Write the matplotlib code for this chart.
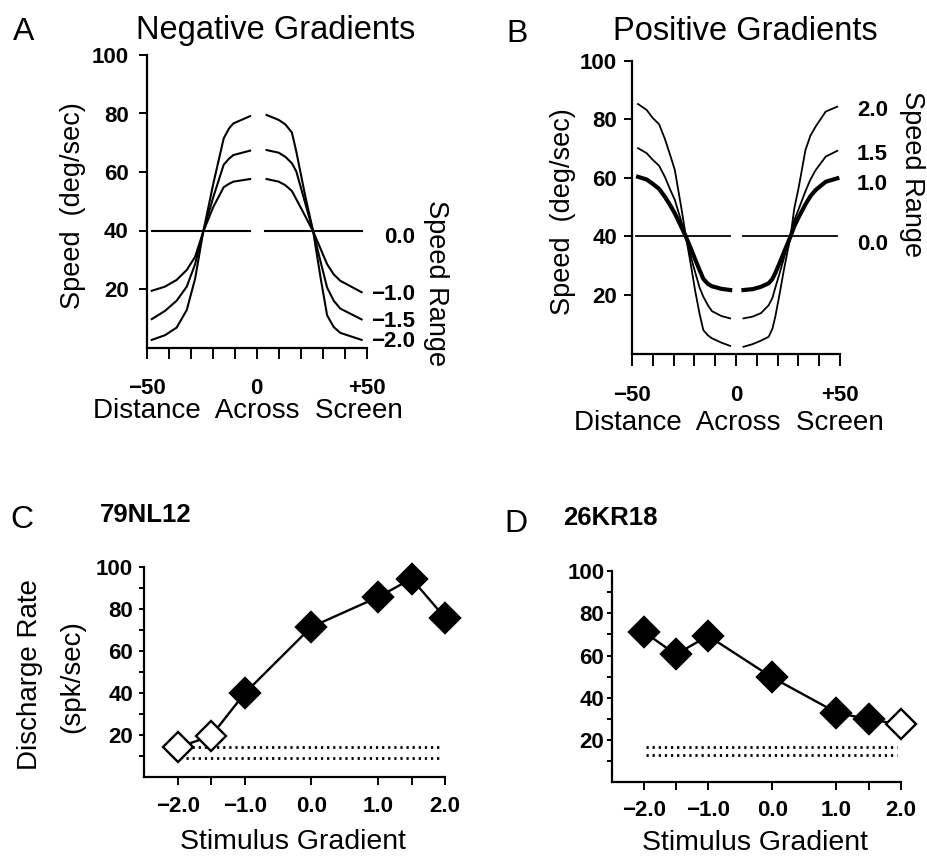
import matplotlib
matplotlib.use('Agg')
import matplotlib.pyplot as plt

plt.rcParams['font.family'] = ['Liberation Sans', 'DejaVu Sans']

W, H = 927, 856

# --- A: negative gradients (speed profile across the screen, gap at centre)
a_x_left = [-47.7, -41.7, -36.4, -31.8, -28, -24.3, -19.7, -15, -12.5, -10.6, -3]
a_x_right = [4.5, 10, 13, 16, 18, 22, 25.7, 29, 32, 35, 38, 47.7]
a_m10_left = [19.4, 20.8, 23.1, 26.5, 31, 39.6, 48.1, 54.8, 56.0, 56.7, 57.6]
a_m10_right = [57.6, 56.7, 55.5, 53.5, 50.7, 45, 39.6, 33.8, 28.5, 25, 22.8, 18.9]
a_m15_left = [9.7, 12.5, 16, 20.8, 28.5, 39.6, 51.5, 62.5, 64.6, 65.8, 67.3]
a_m15_right = [67.5, 66.6, 65.2, 63, 60.2, 49.5, 39.6, 29.4, 20.5, 16, 13.3, 9.6]
a_m20_left = [2.6, 4.2, 6.8, 12.8, 23.5, 39.6, 56.1, 71.5, 75.0, 76.6, 79.1]
a_m20_right = [79.5, 77.8, 76.3, 73.5, 67, 52, 39.6, 24, 11, 7, 5, 2.6]
a_zero_x_left = [-47.7, -3]
a_zero_x_right = [3.8, 48]
a_range_labels = ['0.0', '\u22121.0', '\u22121.5', '\u22122.0']

# --- B: positive gradients
b_x_left = [-47.1, -43, -40, -37, -34.2, -31.5, -29.4, -26.1, -24.1, -21.5, -19.7,
            -17.5, -15.7, -13.5, -11.6, -7, -2.8]
b_x_right = [3.6, 8, 12, 15.7, 17.5, 18.9, 21, 23, 26.2, 28, 30.2, 33.4, 35.8,
             38.3, 43.1, 48.7]
b_p20_left = [85.3, 83.3, 80.5, 78.4, 73.4, 67.5, 62.7, 49, 40, 29.5, 21.7,
              13.5, 8.0, 6.2, 5.2, 3.7, 2.6]
b_p20_right = [2.3, 3.2, 4.4, 5.7, 8.5, 12.6, 20.5, 28.5, 40, 49.5, 57, 69.6, 74.5,
               77.6, 82.7, 84.4]
b_p15_left = [70.2, 68.5, 66.2, 64.2, 60.4, 55.8, 52.5, 44.7, 40, 32.5, 28,
              22.5, 19.4, 16.5, 14.5, 12.8, 12.0]
b_p15_right = [12.0, 12.6, 13.8, 16.5, 19, 22.5, 27.5, 32.5, 40, 45.5, 49.5, 55.5,
               59.5, 62.7, 67.3, 69.3]
b_p10_left = [60.4, 59.5, 58, 56.3, 53.6, 50.5, 47.9, 43, 40, 35.5, 32.3,
              28.5, 25.5, 23.8, 23, 22.1, 21.7]
b_p10_right = [21.7, 22.0, 22.8, 24, 25.5, 27.5, 31, 34.5, 40, 43.5, 46.7, 51,
               53.8, 55.9, 58.7, 59.9]
b_zero_x_left = [-48.3, -2.8]
b_zero_x_right = [3.6, 48.7]
b_range_labels = ['2.0', '1.5', '1.0', '0.0']

zero_speed = 40

# --- C / D: discharge rate vs stimulus gradient
gradients = [-2.0, -1.5, -1.0, 0.0, 1.0, 1.5, 2.0]
c_rate = [14.2, 19.6, 39.8, 71.4, 85.6, 94.3, 75.8]
c_open = [True, True, False, False, False, False, False]
c_spont = [9.3, 14.5]
c_spont_x = [-1.87, 1.95]
d_rate = [71.2, 60.5, 69.3, 49.6, 33.0, 29.8, 27.4]
d_open = [False, False, False, False, False, False, True]
d_spont = [12.9, 16.5]
d_spont_x = [-1.96, 1.95]


def box(left, top, right, bottom):
    return [left / W, 1 - bottom / H, (right - left) / W, (bottom - top) / H]


def fxy(x, y):
    return x / W, 1 - y / H


fig = plt.figure(figsize=(W / 100, H / 100), dpi=100)


def speed_axes(rect, ylen, ypad, xlen, xpad):
    ax = fig.add_axes(rect)
    ax.set_xlim(-50, 50)
    ax.set_ylim(0, 100)
    for s in ['top', 'right']:
        ax.spines[s].set_visible(False)
    for s in ['left', 'bottom']:
        ax.spines[s].set_linewidth(1.6)
    ax.set_xticks(range(-50, 51, 10))
    ax.set_xticklabels(['\u221250', '', '', '', '', '0', '', '', '', '', '+50'])
    ax.set_yticks([20, 40, 60, 80, 100])
    ax.tick_params(axis='y', direction='out', length=ylen, width=1.4, pad=ypad,
                   labelsize=16)
    ax.tick_params(axis='x', direction='out', length=xlen, width=1.4, pad=xpad,
                   labelsize=16)
    for lab in ax.get_xticklabels() + ax.get_yticklabels():
        lab.set_fontweight('bold')
    return ax


# panel A
axA = speed_axes(box(146.7, 55, 366.7, 347.5), 5.8, 7.2, 7.7, 14.0)
for xs in [a_zero_x_left, a_zero_x_right]:
    axA.plot(xs, [zero_speed] * 2, color='black', lw=1.5)
for left, right in [(a_m10_left, a_m10_right), (a_m15_left, a_m15_right),
                    (a_m20_left, a_m20_right)]:
    axA.plot(a_x_left, left, color='black', lw=1.5)
    axA.plot(a_x_right, right, color='black', lw=1.5)

fig.text(*fxy(24, 40), 'A', fontsize=23, ha='center', va='baseline')
fig.text(*fxy(276, 38.5), 'Negative Gradients', fontsize=23.5, ha='center', va='baseline')
fig.text(*fxy(73, 206), 'Speed  (deg/sec)', fontsize=19.5, rotation=90,
         ha='center', va='center')
fig.text(*fxy(436, 283), 'Speed Range', fontsize=19.5, rotation=-90,
         ha='center', va='center')
fig.text(*fxy(248, 417.5), 'Distance  Across  Screen', fontsize=20,
         ha='center', va='baseline')
for lab, y in zip(a_range_labels, [237.5, 295, 321.7, 341.7]):
    fig.text(*fxy(415, y), lab, fontsize=16, fontweight='bold',
             ha='right', va='center')

# panel B
axB = speed_axes(box(632, 61, 840, 353.5), 5.8, 5.0, 8.4, 14.5)
for xs in [b_zero_x_left, b_zero_x_right]:
    axB.plot(xs, [zero_speed] * 2, color='black', lw=1.3)
for left, right, lw in [(b_p20_left, b_p20_right, 1.3), (b_p15_left, b_p15_right, 1.3),
                        (b_p10_left, b_p10_right, 3.0)]:
    axB.plot(b_x_left, left, color='black', lw=lw)
    axB.plot(b_x_right, right, color='black', lw=lw)

fig.text(*fxy(517, 41.7), 'B', fontsize=23, ha='center', va='baseline')
fig.text(*fxy(745, 40), 'Positive Gradients', fontsize=23.5, ha='center', va='baseline')
fig.text(*fxy(563, 212), 'Speed  (deg/sec)', fontsize=19.5, rotation=90,
         ha='center', va='center')
fig.text(*fxy(912, 174), 'Speed Range', fontsize=19.5, rotation=-90,
         ha='center', va='center')
fig.text(*fxy(729, 429.5), 'Distance  Across  Screen', fontsize=20,
         ha='center', va='baseline')
for lab, y in zip(b_range_labels, [110, 155, 185, 245]):
    fig.text(*fxy(857, y), lab, fontsize=16, fontweight='bold',
             ha='left', va='center')


def rate_axes(rect, ypad, xpad):
    ax = fig.add_axes(rect)
    ax.set_xlim(-2.5, 2.0)
    ax.set_ylim(0, 100)
    for s in ['top', 'right']:
        ax.spines[s].set_visible(False)
    for s in ['left', 'bottom']:
        ax.spines[s].set_linewidth(1.6)
    ax.set_xticks([-2, -1, 0, 1, 2])
    ax.set_xticklabels(['\u22122.0', '\u22121.0', '0.0', '1.0', '2.0'])
    ax.set_xticks([-1.5, 1.5], minor=True)
    ax.set_yticks([20, 40, 60, 80, 100])
    ax.set_yticks([10, 30, 50, 70, 90], minor=True)
    ax.tick_params(axis='y', which='both', direction='out', length=3.8,
                   width=1.4, pad=ypad, labelsize=16)
    ax.tick_params(axis='x', which='both', direction='out', length=5.5,
                   width=1.4, pad=xpad, labelsize=16)
    for lab in ax.get_xticklabels() + ax.get_yticklabels():
        lab.set_fontweight('bold')
    return ax


def draw_rates(ax, rate, is_open, spont, spont_x):
    for level in spont:
        ax.plot(spont_x, [level, level], color='black', lw=2.0,
                linestyle=(0, (0.8, 1.4)))
    ax.plot(gradients, rate, color='black', lw=1.7, zorder=3)
    for g, r, o in zip(gradients, rate, is_open):
        ax.plot([g], [r], marker='D', ms=15, mew=1.7, mec='black',
                mfc='white' if o else 'black', clip_on=False, zorder=4)


# panel C
axC = rate_axes(box(144.3, 566.7, 445, 777.3), 4.3, 8.0)
draw_rates(axC, c_rate, c_open, c_spont, c_spont_x)
fig.text(*fxy(22, 528), 'C', fontsize=23, ha='center', va='baseline')
fig.text(*fxy(100, 521.7), '79NL12', fontsize=18.5, fontweight='bold',
         ha='left', va='baseline')
fig.text(*fxy(30, 675), 'Discharge Rate', fontsize=20, rotation=90,
         ha='center', va='center')
fig.text(*fxy(72, 677), '(spk/sec)', fontsize=20, rotation=90,
         ha='center', va='center')
fig.text(*fxy(293, 849), 'Stimulus Gradient', fontsize=20.5,
         ha='center', va='baseline')

# panel D
axD = rate_axes(box(611.7, 571, 900.7, 782.3), 1.5, 7.0)
draw_rates(axD, d_rate, d_open, d_spont, d_spont_x)
fig.text(*fxy(516, 531.7), 'D', fontsize=23, ha='center', va='baseline')
fig.text(*fxy(563.3, 525), '26KR18', fontsize=18.5, fontweight='bold',
         ha='left', va='baseline')
fig.text(*fxy(755, 850), 'Stimulus Gradient', fontsize=20.5,
         ha='center', va='baseline')

fig.savefig('out.png', dpi=100)
